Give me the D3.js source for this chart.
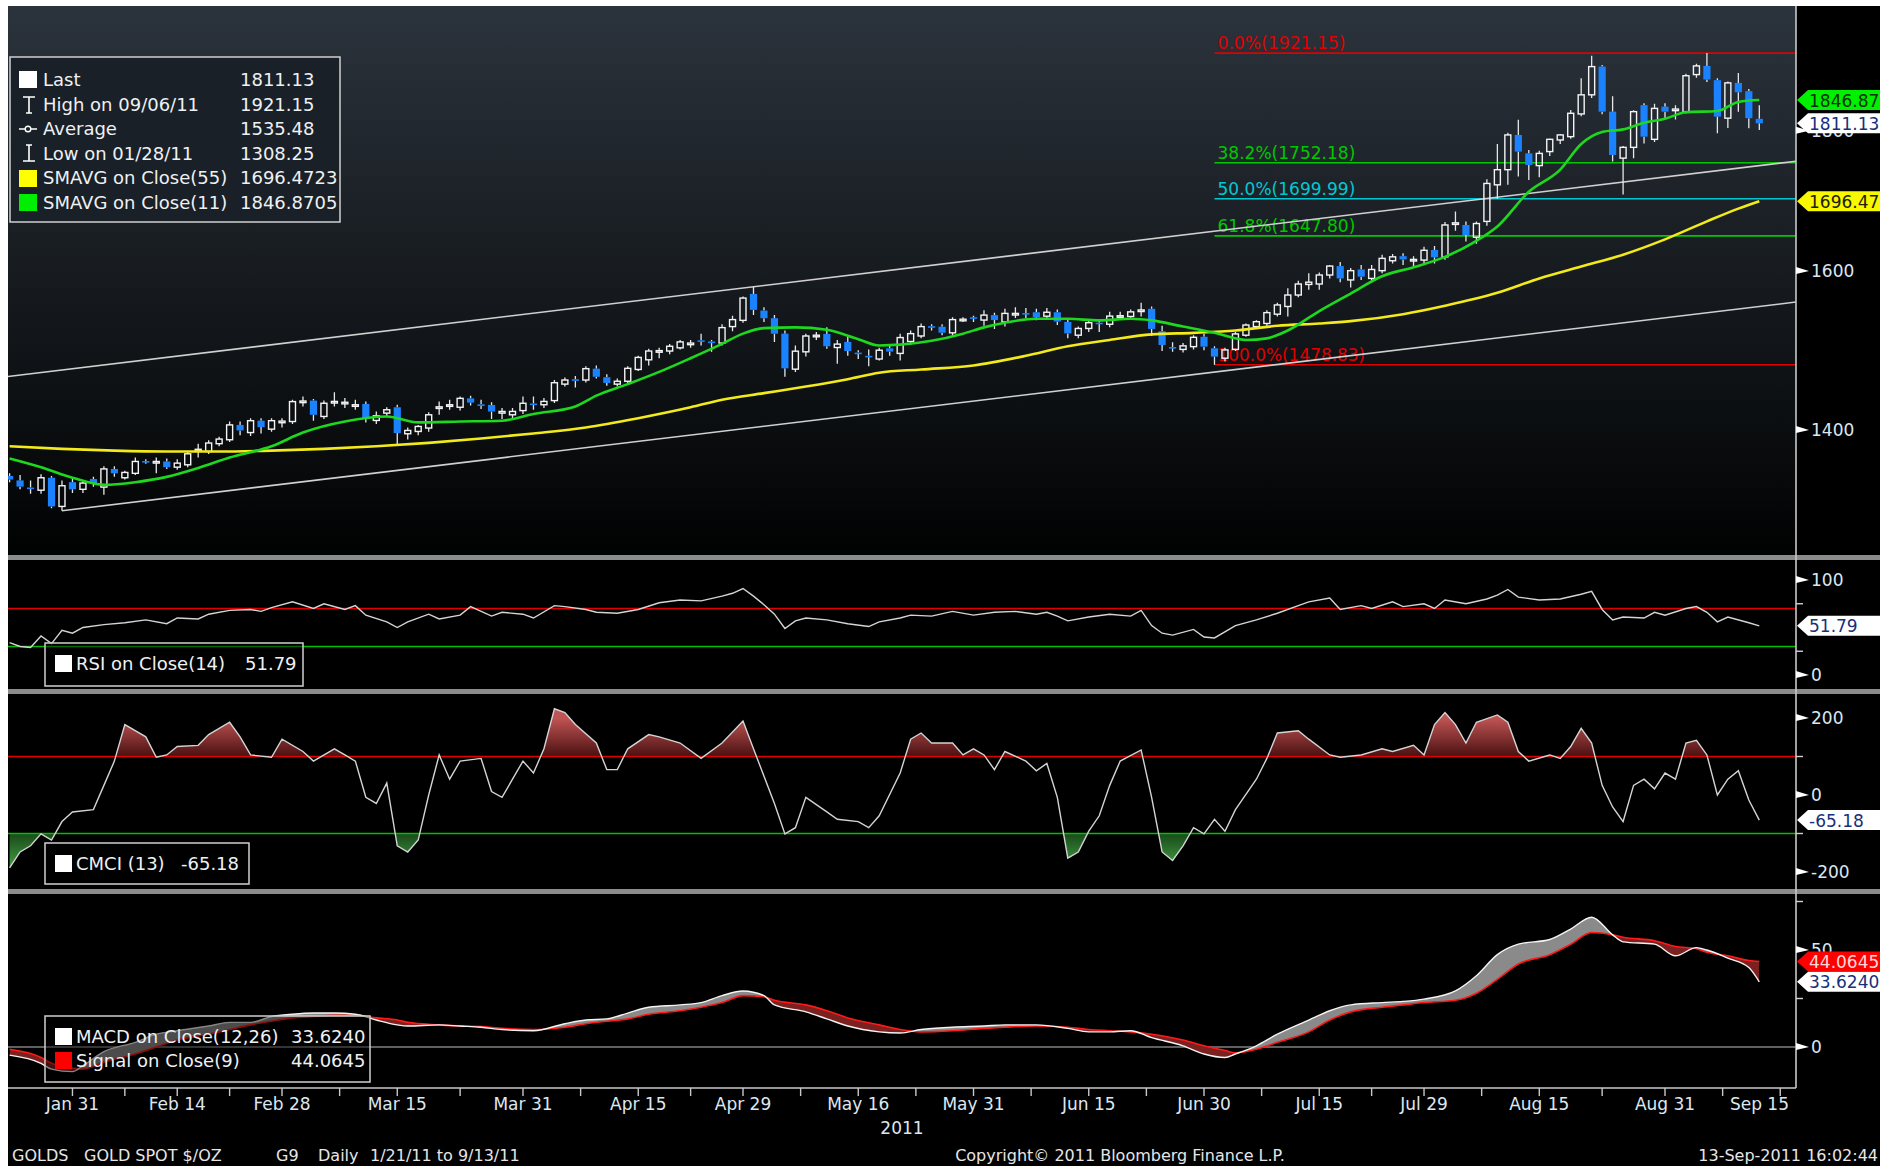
<!DOCTYPE html>
<html>
<head>
<meta charset="utf-8">
<script src="https://cdn.jsdelivr.net/npm/d3@7"></script>
<style>
  html, body { margin: 0; padding: 0; background: #fff; }
  svg { display: block; }
  text { font-family: "DejaVu Sans", Verdana, sans-serif; }
</style>
</head>
<body>
<svg id="chart" width="1896" height="1169"></svg>
<script>
// ---- data (GOLDS daily 1/21/11 - 9/13/11) ----
const firstDay = new Date(2011, 0, 21);
const lastDay = new Date(2011, 8, 13);

const opens = [
  1347,1342,1334,1331,1345,1313,1340,
  1332,1343.5,1334.5,1355,1345,1350,1364,1362.5,1363.5,1357,1359.7,1376,1375,1384,1388.6,1406,1397,1411,1401,1409,
  1410,1433.5,1435,1416,1433,1432,1429,1431,1411.3,1420,1427,1395.6,1398.3,1402.3,1426.5,1429,1427,1437.7,1430.5,1429.8,1420,1418,1423,
  1431.5,1430,1435,1455,1461,1460,1474,1463.4,1455,1458.5,1473,1485,1495,1496,1500,1505,1509.5,1508,1506,1527,1535,
  1569.5,1547.7,1537.8,1518,1473.4,1495,1515,1517.6,1500.4,1507.5,1494,1490,1486,1499.4,1493,1508,1515,1527.5,1526.8,1519,1535.5,1539,
  1535.4,1541.8,1533,1543,1544.5,1545.5,1540.4,1545.5,1533,1516,1524.6,1532,1530,1540,1540,1546.5,1550,1521,1501,1498,1501.5,1514,
  1499.4,1487,1498,1516,1527,1531,1543,1553,1568,1582,1582.6,1594.6,1606.6,1588,1602,1590,1600.4,1613.8,1620,1614.5,1614.7,
  1628.5,1619,1664,1663,1646,1668,1720,1742,1793.6,1766,1748,1768.7,1786,1791,1825.5,1855,1899.5,1829,1759,1775,1839,1787,1836.7,
  1831,1829,1886.8,1900.6,1878,1819,1873.7,1860.7,1818
];
const highs = [
  1350,1348,1342,1349,1347,1342,1345,
  1342,1346,1358,1358,1353,1368,1366,1368,1367,1366,1375,1384,1388,1392,1410,1410,1414,1414,1414,1414,
  1436,1440,1437,1435,1445,1438,1436,1434,1422,1427,1430,1403,1406,1421,1434,1436,1440,1441,1436,1433,1426,1426,1440,
  1440,1438,1460,1463,1465,1477,1478,1467,1462,1477,1490,1499,1500,1505,1510,1510,1518,1510,1530,1541,1566,
  1579,1552,1542,1522,1503,1518,1520,1526,1510,1515,1497,1498,1500,1505,1518,1522,1531,1530,1530,1539,1539,1541,
  1548,1545,1550,1552,1551,1550,1551,1549,1536,1527,1536,1536,1546,1546,1549,1558,1553,1528,1507,1506,1516,1518,
  1502,1500,1520,1531,1535,1548,1558,1577,1587,1597,1598,1608,1612,1604,1608,1608,1622,1623,1624,1620,1633,
  1634,1667,1682,1668,1668,1728,1780,1797,1816.6,1771,1770,1788,1795,1831.6,1881,1917,1902,1853,1777,1831,1842,1841,1842,
  1839,1888,1904,1921.15,1881,1876,1889.5,1864,1839
];
const lows = [
  1340,1332,1327,1327,1311,1308.25,1328,
  1328,1335,1326,1346,1343,1348,1361,1350,1355,1354,1357,1368,1372,1381,1386,1394,1393,1396,1398,1403,
  1407,1428,1411,1413,1428,1426,1424,1409,1407,1416,1382,1389,1394,1398,1418,1424,1423,1429,1425,1413,1413,1414,1419,
  1424,1426,1432,1452,1451,1457,1462,1453,1452,1455,1471,1478,1487,1492,1498,1500,1503,1495,1503,1521,1532,
  1542,1533,1507.5,1464,1470,1489,1510,1499,1480,1490,1486,1477,1484,1490,1484,1504,1512,1522,1516,1516,1533,1533,
  1528,1524,1527,1538,1538,1535,1536,1529,1512,1512,1520,1520,1526,1536,1536,1540,1515,1496,1495,1494,1498,1497,
  1478.83,1483,1496,1514,1524,1526,1540,1540,1565,1575,1575,1590,1585,1578,1588,1585,1597,1610,1608,1606,1608,
  1610,1615,1655,1640,1637,1662,1700,1720,1732,1727,1731,1762,1780,1788,1822,1850,1825,1754,1706,1759,1780.6,1783,1817,
  1817,1826,1882,1875,1796,1804,1829,1803.7,1801
];
const closes = [
  1343,1335,1333,1345,1313,1336,1332,
  1339,1338,1355,1350,1351,1363.5,1363,1363.5,1357,1361.6,1372.3,1377.5,1384.8,1389.4,1406,1399.5,1411,1403.4,1411,1410.5,
  1433.8,1434.5,1418,1431.8,1434,1433,1430,1413,1416.8,1424,1396.4,1399.5,1404.2,1418,1427.5,1430,1437.7,1432.6,1429.8,1421.9,1422,1422,1431.8,
  1431,1434,1456.7,1460,1459,1474,1464,1456.4,1458.5,1474.4,1488,1496,1496.5,1502,1507.5,1506,1508.5,1506.5,1525.7,1536,1564,
  1548.6,1537.8,1517.9,1474.4,1495.8,1515,1516,1502,1504.7,1496,1492.5,1489,1497,1495.3,1513,1518,1527,1526.5,1519.2,1536,1536.5,1538.5,
  1541.8,1535.4,1544,1544,1543.5,1539,1545.5,1533.5,1518.3,1524.6,1532,1531,1540.5,1541,1546,1548.5,1524,1503.6,1500,1502.5,1513.3,1501.5,
  1489,1497.4,1517.6,1529,1533.3,1545,1555,1568,1582.6,1585,1594.6,1606.6,1590,1600.4,1592.4,1602,1617,1619.1,1615.6,1615.6,1628,
  1618.5,1663,1666,1649,1665,1722,1742,1793.6,1768.7,1749,1766,1787,1793.6,1826.5,1855,1899.5,1829,1763.7,1775,1829,1791,1834,1829,
  1833,1885,1900.6,1879,1821.4,1873.7,1859,1819,1811.13
];

// [trading day index, value]
const sma55 = [
  [0,1381],[5,1378],[10,1376],[15,1375],[20,1375],[25,1376],[30,1378],[35,1381],[40,1385],[45,1390],
  [50,1396],[55,1403],[60,1414],[65,1427],[68,1436],[72,1444],[76,1452],[80,1461],[83,1469],[87,1473],
  [92,1478],[97,1490],[101,1502],[105,1510],[109,1517],[113,1519],[117,1522],[121,1528],[125,1531],[128,1534],
  [133,1543],[137,1554],[142,1571],[146,1590],[150,1606],[154,1622],[158,1643],[162,1668],[165,1686],[167,1696.47]
];
const sma11 = [
  [0,1367],[3,1357],[6,1345],[9,1337],[12,1340],[15,1346],[18,1356],[21,1368],[25,1381],[28,1397],
  [32,1410],[36,1416],[39,1409],[43,1410],[47,1411],[50,1419],[54,1428],[56,1441],[59,1455],[62,1470],
  [65,1487],[68,1505],[70,1518],[72,1525],[75,1526],[78,1523],[81,1511],[83,1503],[85,1504],[88,1509],
  [91,1518],[93,1526],[95,1532],[98,1537],[101,1537],[104,1535],[107,1537],[109,1535],[112,1527],[115,1519],
  [118,1510],[120,1512],[122,1522],[125,1547],[128,1570],[131,1593],[134,1605],[137,1619],[140,1641],[142,1661],
  [145,1710],[148,1742],[150,1780],[152,1798],[154,1802],[156,1812],[158,1818],[160,1828],[163,1830],[165,1844],[167,1846.87]
];
const rsi14 = [
  [0,34],[1,30],[2,29],[3,41],[4,33],[5,47],[6,44],[7,50],[9,53],[11,55],[13,58],[15,54],[16,60],[18,59],
  [19,64],[21,68],[23,69],[24,67],[25,71],[27,77],[29,70],[30,75],[32,69],[33,73],[34,63],[36,56],[37,50],
  [38,56],[40,64],[41,59],[43,63],[44,72],[46,62],[47,66],[49,64],[50,60],[52,73],[53,72],[55,69],[56,66],
  [58,65],[60,69],[62,76],[64,79],[66,78],[68,83],[69,86],[70,91],[71,83],[72,74],[73,64],[74,49],[75,57],
  [76,60],[78,58],[80,54],[82,51],[83,56],[85,60],[86,63],[88,62],[90,67],[92,63],[94,66],[96,67],[98,64],
  [99,66],[100,62],[101,57],[103,61],[105,64],[107,62],[108,68],[109,52],[110,44],[111,42],[113,48],[114,40],
  [115,39],[117,52],[119,58],[121,65],[123,73],[124,77],[126,81],[127,69],[129,73],[130,70],[132,77],[133,72],
  [135,75],[136,70],[137,79],[139,75],[141,80],[142,84],[143,90],[144,82],[146,79],[148,80],[150,85],[151,88],
  [152,69],[153,58],[154,61],[156,60],[157,66],[158,63],[160,70],[161,72],[162,66],[163,56],[164,61],[166,55],[167,51.79]
];
const cmci13 = [
  [0,-189],[1,-148],[2,-132],[3,-101],[4,-117],[5,-69],[6,-44],[8,-38],[9,25],[10,88],[11,183],[13,151],
  [14,98],[15,104],[16,126],[18,129],[19,157],[21,189],[22,151],[23,104],[25,98],[26,145],[28,113],[29,88],
  [31,120],[32,104],[33,88],[34,-6],[35,-22],[36,31],[37,-132],[38,-148],[39,-117],[40,0],[41,104],[42,41],
  [43,88],[45,95],[46,9],[47,-6],[48,41],[49,88],[50,57],[51,120],[52,224],[53,214],[54,183],[56,135],[57,66],
  [58,66],[59,120],[61,157],[62,151],[64,135],[66,95],[68,135],[70,192],[71,120],[73,-22],[74,-101],[75,-85],
  [76,-6],[78,-44],[79,-63],[81,-69],[82,-85],[83,-54],[85,57],[86,145],[87,161],[88,135],[90,135],[91,104],
  [92,120],[93,104],[94,66],[95,113],[97,88],[98,63],[99,82],[100,-6],[101,-164],[102,-148],[103,-94],[104,-54],
  [105,25],[106,88],[108,117],[109,-6],[110,-148],[111,-170],[112,-132],[113,-85],[114,-101],[115,-63],[116,-94],
  [117,-38],[119,41],[120,95],[121,161],[123,167],[124,145],[126,104],[127,98],[129,104],[131,120],[132,113],
  [134,129],[135,104],[136,183],[137,214],[138,183],[139,135],[140,189],[142,208],[143,189],[144,113],[145,88],
  [147,104],[148,95],[149,126],[150,173],[151,135],[152,25],[153,-31],[154,-69],[155,25],[156,41],[157,16],
  [158,57],[159,41],[160,135],[161,142],[162,104],[163,0],[164,41],[165,63],[166,-13],[167,-65.18]
];
const macdDays = [0,3,4,6,7,9,12,14,16,19,21,23,25,27,29,31,33,35,37,38,41,43,45,47,50,53,55,57,59,61,64,66,68,70,72,73,76,78,80,83,85,87,90,93,95,98,101,103,105,107,109,112,114,116,117,119,121,124,126,128,131,133,135,138,140,142,144,147,149,151,153,154,157,159,161,162,164,166,167];
const macdValues = [-4.2,-8.4,-11.4,-12.7,-9.6,-2.4,2.4,6.6,8.4,10.8,12.7,12.7,15.7,16.9,17.5,17.5,16.9,13.9,11.4,10.8,11.4,10.8,10.2,9,8.4,12,13.9,14.5,17.5,20.5,21.7,22.9,26.5,28.9,26.5,21.7,18.1,14.5,10.8,7.8,7.2,9,10.2,10.8,11.4,11.4,9.6,7.8,7.8,8.4,4.8,0.6,-3.6,-5.4,-3.6,0.6,6.6,13.9,18.7,21.7,22.9,23.5,24.7,28.9,36.7,47.6,53,55.4,60.8,66.9,57.8,54.2,53,47,51.2,50,45.8,41,33.624];
const signalValues = [-1.2,-5.4,-8.4,-10.8,-11.4,-7.8,-3.6,0,3.6,6.6,9,11.4,13.3,15,15.7,16.3,16.3,15,13.9,12.7,11.4,10.8,10.6,9.6,9,10.2,12,13.3,14.5,16.9,18.7,20.5,22.9,26.5,25.9,24.1,21.7,18.7,15,11.4,9,7.8,8.4,9.6,10.2,10.8,10.2,9,8.4,7.8,6.6,3.6,0.6,-1.8,-3,-1.2,2.4,7.8,13.9,18.1,20.5,21.7,22.9,24.1,27.7,34.9,42.8,47.6,53,59,57.8,56.6,54.8,51.8,50.6,48.8,47,44.6,44.0645];

// Fibonacci retracement from the 7/1 low to the 9/6 high
const fibStartDay = 115;
const fibPcts = ["0.0%", "38.2%", "50.0%", "61.8%", "100.0%"];
const fibLevels = [1921.15, 1752.18, 1699.99, 1647.80, 1478.83];
const fibColors = ["#e00000", "#00c800", "#00c8d2", "#00c800", "#e00000"];

// trend channel anchors [day, price]
const lowerTrend = [[5, 1308.25], [167, 1553]];
const upperTrend = [[71, 1579], [167, 1748]];

const priceTicks = [1400, 1600, 1800];
const tickLabels = ["Jan 31","Feb 14","Feb 28","Mar 15","Mar 31","Apr 15","Apr 29","May 16","May 31","Jun 15","Jun 30","Jul 15","Jul 29","Aug 15","Aug 31","Sep 15"];
const tickDates = ["2011-01-31","2011-02-14","2011-02-28","2011-03-15","2011-03-31","2011-04-15","2011-04-29","2011-05-16","2011-05-31","2011-06-15","2011-06-30","2011-07-15","2011-07-29","2011-08-15","2011-08-31","2011-09-15"];

const legendNames = ["Last", "High on 09/06/11", "Average", "Low on 01/28/11", "SMAVG on Close(55)", "SMAVG on Close(11)"];
const legendValues = ["1811.13", "1921.15", "1535.48", "1308.25", "1696.4723", "1846.8705"];

// ---- layout ----
const L = 8, R = 1796, RC = 1880;
const mainTop = 6, mainBot = 555;
const rsiTop = 560, rsiBot = 689;
const cmciTop = 694, cmciBot = 889;
const macdTop = 894, macdBot = 1088;

const isWeekday = d => d.getDay() !== 0 && d.getDay() !== 6;
const days = d3.timeDay.range(firstDay, d3.timeDay.offset(lastDay, 1)).filter(isWeekday);
const dayIndex = d => d3.timeDay.range(firstDay, d).filter(isWeekday).length;

const x = d3.scaleLinear().domain([0, days.length - 1]).range([9.6, 1759.3]);
const yP = d3.scaleLog().domain([1260, 2000]).range([555.5, 5.2]);
const yR = d3.scaleLinear().domain([0, 100]).range([675, 580]);
const yC = d3.scaleLinear().domain([-200, 200]).range([872, 718]);
const yM = d3.scaleLinear().domain([0, 50]).range([1047, 950]);

const svg = d3.select("#chart");
const defs = svg.append("defs");

const bgGrad = defs.append("linearGradient").attr("id", "mainBg")
  .attr("x1", 0).attr("y1", 0).attr("x2", 0).attr("y2", 1);
bgGrad.append("stop").attr("offset", "0%").attr("stop-color", "#2b333c");
bgGrad.append("stop").attr("offset", "100%").attr("stop-color", "#010202");

const redGrad = defs.append("linearGradient").attr("id", "redFill")
  .attr("gradientUnits", "userSpaceOnUse").attr("x1", 0).attr("y1", yC(200)).attr("x2", 0).attr("y2", yC(100));
redGrad.append("stop").attr("offset", "0%").attr("stop-color", "#c05454");
redGrad.append("stop").attr("offset", "100%").attr("stop-color", "#4a1010");
const greenGrad = defs.append("linearGradient").attr("id", "greenFill")
  .attr("gradientUnits", "userSpaceOnUse").attr("x1", 0).attr("y1", yC(-100)).attr("x2", 0).attr("y2", yC(-200));
greenGrad.append("stop").attr("offset", "0%").attr("stop-color", "#1a4a1a");
greenGrad.append("stop").attr("offset", "100%").attr("stop-color", "#49a849");

function clipRect(id, x0, y0, x1, y1) {
  defs.append("clipPath").attr("id", id).append("rect")
    .attr("x", x0).attr("y", y0).attr("width", x1 - x0).attr("height", y1 - y0);
}
clipRect("clipMain", L, mainTop, R, mainBot);
clipRect("clipRsi", L, rsiTop, R, rsiBot);
clipRect("clipCmci", L, cmciTop, R, cmciBot);
clipRect("clipMacd", L, macdTop, R, macdBot);
clipRect("clipCmciUp", L, cmciTop, R, yC(100));
clipRect("clipCmciDn", L, yC(-100), R, cmciBot);

// background
svg.append("rect").attr("x", L).attr("y", mainTop).attr("width", RC - L).attr("height", 1166 - mainTop).attr("fill", "#000");
svg.append("rect").attr("x", L).attr("y", mainTop).attr("width", R - L).attr("height", mainBot - mainTop).attr("fill", "url(#mainBg)");
[[mainBot, rsiTop], [rsiBot, cmciTop], [cmciBot, macdTop]].forEach(s => {
  svg.append("rect").attr("x", L).attr("y", s[0]).attr("width", RC - L).attr("height", s[1] - s[0]).attr("fill", "#8c8c8c");
});

// ---- main price panel ----
const gMain = svg.append("g").attr("clip-path", "url(#clipMain)");

fibLevels.forEach((lv, k) => {
  const yy = yP(lv);
  gMain.append("line").attr("x1", x(fibStartDay)).attr("x2", R).attr("y1", yy).attr("y2", yy)
    .attr("stroke", fibColors[k]).attr("stroke-width", 1.6);
  const label = fibPcts[k] + "(" + lv.toFixed(2) + ")";
  gMain.append("text").attr("x", x(fibStartDay) + 3).attr("y", yy - 4)
    .attr("fill", fibColors[k]).attr("font-family", "DejaVu Sans Mono, monospace")
    .attr("font-size", 18).attr("textLength", label.length * 9.85).attr("lengthAdjust", "spacingAndGlyphs")
    .text(label);
});

function trendPath(pts, fromX) {
  const xa = x(pts[0][0]), ya = yP(pts[0][1]);
  const xb = x(pts[1][0]), yb = yP(pts[1][1]);
  const k = (yb - ya) / (xb - xa);
  const x0 = fromX === undefined ? xa : fromX;
  return d3.line()([[x0, ya + k * (x0 - xa)], [R, ya + k * (R - xa)]]);
}
gMain.append("path").attr("d", trendPath(upperTrend, L)).attr("stroke", "#d0d0d0").attr("stroke-width", 1.6).attr("fill", "none");
gMain.append("path").attr("d", trendPath(lowerTrend)).attr("stroke", "#d0d0d0").attr("stroke-width", 1.6).attr("fill", "none");

const candles = days.map((d, i) => ({ i, o: opens[i], h: highs[i], l: lows[i], c: closes[i] }));
const blue = "#1a82ff";
gMain.append("g").selectAll("path").data(candles).join("path")
  .attr("d", d => {
    const cx = x(d.i);
    const t = yP(Math.max(d.o, d.c)), b = yP(Math.min(d.o, d.c));
    return `M${cx},${yP(d.h)}V${t}M${cx},${b}V${yP(d.l)}`;
  })
  .attr("stroke", "#e6e6e6").attr("stroke-width", 1.3).attr("fill", "none");
gMain.append("g").selectAll("rect").data(candles).join("rect")
  .attr("x", d => x(d.i) - (d.c >= d.o ? 3 : 3.6))
  .attr("width", d => d.c >= d.o ? 6 : 7.2)
  .attr("y", d => yP(Math.max(d.o, d.c)))
  .attr("height", d => Math.max(yP(Math.min(d.o, d.c)) - yP(Math.max(d.o, d.c)), 1.6))
  .attr("fill", d => d.c >= d.o ? "none" : blue)
  .attr("stroke", d => d.c >= d.o ? "#f4f4f4" : "none")
  .attr("stroke-width", 1.4);

const smaLine = d3.line().x(d => x(d[0])).y(d => yP(d[1])).curve(d3.curveMonotoneX);
gMain.append("path").attr("d", smaLine(sma55)).attr("stroke", "#f2ea1a").attr("stroke-width", 2.6).attr("fill", "none");
gMain.append("path").attr("d", smaLine(sma11)).attr("stroke", "#1ed81e").attr("stroke-width", 2.6).attr("fill", "none");

// main legend
const gLeg = svg.append("g");
gLeg.append("rect").attr("x", 10).attr("y", 57).attr("width", 330).attr("height", 165)
  .attr("fill", "#1a2027").attr("stroke", "#d0d0d0").attr("stroke-width", 1.5);
legendNames.forEach((name, k) => {
  const cy = 80 + k * 24.5;
  gLeg.append("text").attr("x", 43).attr("y", cy + 6).attr("fill", "#eef1f4").attr("font-size", 18).text(name);
  gLeg.append("text").attr("x", 240).attr("y", cy + 6).attr("fill", "#eef1f4").attr("font-size", 18).text(legendValues[k]);
});
gLeg.append("rect").attr("x", 19).attr("y", 71).attr("width", 18).attr("height", 17).attr("fill", "#fff");
gLeg.append("path").attr("d", "M23,97H35M29,97V113M26,113H32").attr("stroke", "#fff").attr("stroke-width", 1.6).attr("fill", "none");
gLeg.append("path").attr("d", "M19,129H37").attr("stroke", "#fff").attr("stroke-width", 1.5);
gLeg.append("circle").attr("cx", 28).attr("cy", 129).attr("r", 2.8).attr("fill", "#1a2027").attr("stroke", "#fff").attr("stroke-width", 1.4);
gLeg.append("path").attr("d", "M29,145V161M23,161H35M26,145H32").attr("stroke", "#fff").attr("stroke-width", 1.6).attr("fill", "none");
gLeg.append("rect").attr("x", 19).attr("y", 170).attr("width", 18).attr("height", 17).attr("fill", "#ffff00");
gLeg.append("rect").attr("x", 19).attr("y", 194).attr("width", 18).attr("height", 17).attr("fill", "#00ee00");

// ---- RSI panel ----
const gRsi = svg.append("g").attr("clip-path", "url(#clipRsi)");
gRsi.append("line").attr("x1", L).attr("x2", R).attr("y1", yR(70)).attr("y2", yR(70)).attr("stroke", "#e00000").attr("stroke-width", 1.4);
gRsi.append("line").attr("x1", L).attr("x2", R).attr("y1", yR(30)).attr("y2", yR(30)).attr("stroke", "#00c000").attr("stroke-width", 1.4);
gRsi.append("path").attr("d", d3.line().x(d => x(d[0])).y(d => yR(d[1]))(rsi14))
  .attr("stroke", "#d4d4d4").attr("stroke-width", 1.4).attr("fill", "none");

// ---- CMCI panel ----
const gCm = svg.append("g").attr("clip-path", "url(#clipCmci)");
const cmArea = (base) => d3.area().x(d => x(d[0])).y0(yC(base)).y1(d => yC(d[1]));
gCm.append("g").attr("clip-path", "url(#clipCmciUp)").append("path").attr("d", cmArea(100)(cmci13)).attr("fill", "url(#redFill)");
gCm.append("g").attr("clip-path", "url(#clipCmciDn)").append("path").attr("d", cmArea(-100)(cmci13)).attr("fill", "url(#greenFill)");
gCm.append("line").attr("x1", L).attr("x2", R).attr("y1", yC(100)).attr("y2", yC(100)).attr("stroke", "#e00000").attr("stroke-width", 1.4);
gCm.append("line").attr("x1", L).attr("x2", R).attr("y1", yC(-100)).attr("y2", yC(-100)).attr("stroke", "#00c000").attr("stroke-width", 1.4);
gCm.append("path").attr("d", d3.line().x(d => x(d[0])).y(d => yC(d[1]))(cmci13))
  .attr("stroke", "#d4d4d4").attr("stroke-width", 1.4).attr("fill", "none");

// ---- MACD panel ----
const gMa = svg.append("g").attr("clip-path", "url(#clipMacd)");
const macdPts = macdDays.map((d, k) => ({ d, m: macdValues[k], s: signalValues[k] }));
const curve = d3.curveMonotoneX;
defs.append("clipPath").attr("id", "aboveSig").append("path")
  .attr("d", d3.area().x(p => x(p.d)).y0(macdTop).y1(p => yM(p.s)).curve(curve)(macdPts));
defs.append("clipPath").attr("id", "belowSig").append("path")
  .attr("d", d3.area().x(p => x(p.d)).y0(macdBot).y1(p => yM(p.s)).curve(curve)(macdPts));
gMa.append("line").attr("x1", L).attr("x2", R).attr("y1", yM(0)).attr("y2", yM(0)).attr("stroke", "#bdbdbd").attr("stroke-width", 1.2);
const between = d3.area().x(p => x(p.d)).y0(p => yM(p.s)).y1(p => yM(p.m)).curve(curve)(macdPts);
gMa.append("g").attr("clip-path", "url(#aboveSig)").append("path").attr("d", between).attr("fill", "#8a8a8a");
gMa.append("g").attr("clip-path", "url(#belowSig)").append("path").attr("d", between).attr("fill", "#7c2020");
gMa.append("path").attr("d", d3.line().x(p => x(p.d)).y(p => yM(p.s)).curve(curve)(macdPts))
  .attr("stroke", "#ff1a1a").attr("stroke-width", 1.6).attr("fill", "none");
gMa.append("path").attr("d", d3.line().x(p => x(p.d)).y(p => yM(p.m)).curve(curve)(macdPts))
  .attr("stroke", "#f4f4f4").attr("stroke-width", 1.4).attr("fill", "none");

// small legend boxes for the lower studies
function studyLegend(x0, y0, w, h, rows) {
  const g = svg.append("g");
  g.append("rect").attr("x", x0).attr("y", y0).attr("width", w).attr("height", h)
    .attr("fill", "rgba(0,0,0,0.45)").attr("stroke", "#d0d0d0").attr("stroke-width", 1.5);
  rows.forEach((r, k) => {
    const cy = y0 + 21 + k * 24;
    g.append("rect").attr("x", x0 + 10).attr("y", cy - 9).attr("width", 17).attr("height", 17).attr("fill", r.color);
    g.append("text").attr("x", x0 + 31).attr("y", cy + 6).attr("fill", "#eef1f4").attr("font-size", 18).text(r.name);
    g.append("text").attr("x", x0 + r.vx).attr("y", cy + 6).attr("fill", "#eef1f4").attr("font-size", 18).text(r.value);
  });
}
studyLegend(45, 643, 258, 43, [{ color: "#fff", name: "RSI on Close(14)", value: "51.79", vx: 200 }]);
studyLegend(45, 843, 204, 41, [{ color: "#fff", name: "CMCI (13)", value: "-65.18", vx: 136 }]);
studyLegend(45, 1016, 325, 66, [
  { color: "#fff", name: "MACD on Close(12,26)", value: "33.6240", vx: 246 },
  { color: "#ff0000", name: "Signal on Close(9)", value: "44.0645", vx: 246 }
]);

// ---- right axis ----
const gAx = svg.append("g");
gAx.append("line").attr("x1", R).attr("x2", R).attr("y1", mainTop).attr("y2", macdBot).attr("stroke", "#c8c8c8").attr("stroke-width", 1.6);
gAx.append("line").attr("x1", L).attr("x2", R).attr("y1", macdBot).attr("y2", macdBot).attr("stroke", "#c8c8c8").attr("stroke-width", 1.6);

function axisLabels(scale, vals) {
  vals.forEach(v => {
    const yy = scale(v);
    gAx.append("path").attr("d", `M${R},${yy - 4}L${R + 13},${yy}L${R},${yy + 3}Z`).attr("fill", "#fff");
    gAx.append("text").attr("x", R + 15).attr("y", yy + 6).attr("fill", "#dbe6f1").attr("font-size", 17).text(v);
  });
}
function minorTicks(scale, vals) {
  vals.forEach(v => gAx.append("line").attr("x1", R).attr("x2", R + 7)
    .attr("y1", scale(v)).attr("y2", scale(v)).attr("stroke", "#d0d0d0").attr("stroke-width", 1.4));
}
axisLabels(yP, priceTicks);
axisLabels(yR, [100, 0]);
minorTicks(yR, [25, 75]);
axisLabels(yC, [200, 0, -200]);
minorTicks(yC, [100, -100]);
axisLabels(yM, [50, 0]);
minorTicks(yM, [25, 75]);

function tag(yy, label, bg, fg) {
  gAx.append("path").attr("d", `M${R + 1},${yy}L${R + 12},${yy - 10}L${RC},${yy - 10}L${RC},${yy + 10}L${R + 12},${yy + 10}Z`).attr("fill", bg);
  gAx.append("text").attr("x", R + 13).attr("y", yy + 6.5).attr("fill", fg).attr("font-size", 17).text(label);
}
tag(yP(1846.87), "1846.87", "#00f000", "#053005");
tag(yP(1811.13), "1811.13", "#ffffff", "#16307a");
tag(yP(1696.47), "1696.47", "#f8f800", "#202000");
tag(yR(51.79), "51.79", "#ffffff", "#16307a");
tag(yC(-65.18), "-65.18", "#ffffff", "#16307a");
tag(yM(44.0645), "44.0645", "#ff0000", "#ffd8d8");
tag(yM(33.624), "33.6240", "#ffffff", "#16307a");

// ---- time axis ----
const parse = d3.timeParse("%Y-%m-%d");
const tickIdx = tickDates.map(s => dayIndex(parse(s)));
const allTicks = tickIdx.concat(tickIdx.slice(1).map((v, k) => (v + tickIdx[k]) / 2));
allTicks.filter(v => x(v) <= R).forEach(v => {
  gAx.append("line").attr("x1", x(v)).attr("x2", x(v)).attr("y1", macdBot).attr("y2", macdBot + 8)
    .attr("stroke", "#c8c8c8").attr("stroke-width", 1.4);
});
tickLabels.forEach((lab, k) => {
  const t = gAx.append("text").attr("x", x(tickIdx[k])).attr("y", 1110).attr("text-anchor", "middle")
    .attr("fill", "#dde7f1").attr("font-size", 17).text(lab);
  const w = t.node().getComputedTextLength();
  if (x(tickIdx[k]) + w / 2 > R - 4) t.attr("x", R - 7).attr("text-anchor", "end");
});
gAx.append("text").attr("x", (L + R) / 2).attr("y", 1134).attr("text-anchor", "middle")
  .attr("fill", "#dde7f1").attr("font-size", 17).text("2011");

// ---- footer ----
const footerParts = [["GOLDS", 12], ["GOLD SPOT $/OZ", 84], ["G9", 276], ["Daily", 318], ["1/21/11 to 9/13/11", 370]];
footerParts.forEach(p => gAx.append("text").attr("x", p[1]).attr("y", 1161).attr("fill", "#e6e6e6").attr("font-size", 16).text(p[0]));
gAx.append("text").attr("x", 1120).attr("y", 1161).attr("text-anchor", "middle").attr("fill", "#e6e6e6").attr("font-size", 16)
  .text("Copyright\u00a9 2011 Bloomberg Finance L.P.");
gAx.append("text").attr("x", 1878).attr("y", 1161).attr("text-anchor", "end").attr("fill", "#e6e6e6").attr("font-size", 16)
  .text("13-Sep-2011 16:02:44");
</script>
</body>
</html>
